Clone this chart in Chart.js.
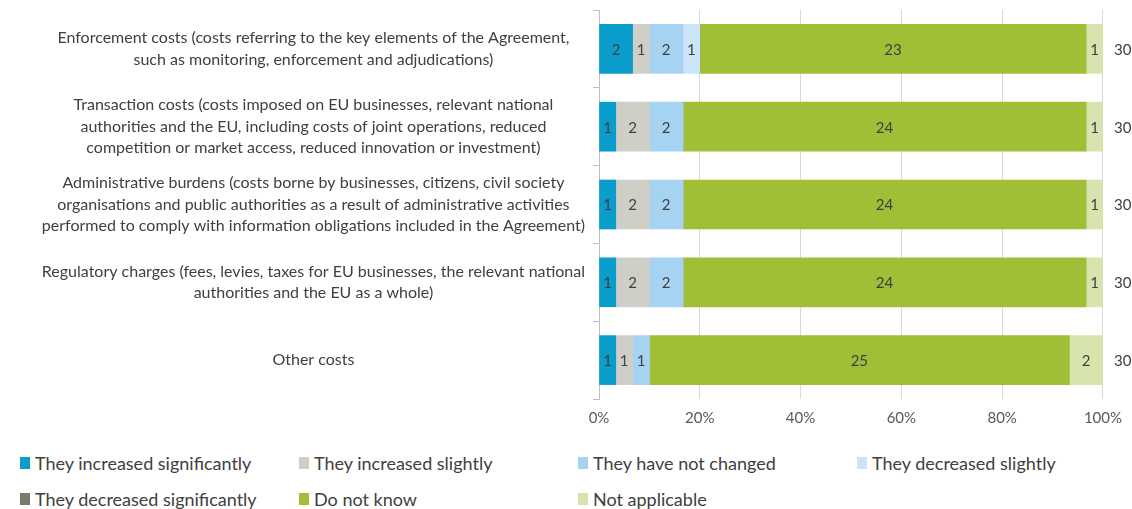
<!DOCTYPE html>
<html>
<head>
<meta charset="utf-8">
<script src="https://cdn.jsdelivr.net/npm/chart.js@4"></script>
<style>
  html, body { margin: 0; padding: 0; background: #fff; }
  body { width: 1132px; height: 509px; overflow: hidden; position: relative; font-family: Lato, "Open Sans", sans-serif; }
  #wrap { position: absolute; left: 0; top: 0; width: 1132px; height: 437px; }
  #legend { position: absolute; left: 20px; top: 452px; display: grid; grid-template-columns: repeat(4, 279px); row-gap: 14px; }
  .item { display: flex; align-items: center; font-size: 18px; color: #404040; height: 22px; white-space: nowrap; }
  .item i { display: inline-block; width: 10px; height: 12px; margin-right: 5px; }
</style>
</head>
<body>
<div id="wrap"><canvas id="chart"></canvas></div>
<div id="legend"></div>
<script>
  const categories = [
    ['Enforcement costs (costs referring to the key elements of the Agreement,', 'such as monitoring, enforcement and adjudications)'],
    ['Transaction costs (costs imposed on EU businesses, relevant national', 'authorities and the EU, including costs of joint operations, reduced', 'competition or market access, reduced innovation or investment)'],
    ['Administrative burdens (costs borne by businesses, citizens, civil society', 'organisations and public authorities as a result of administrative activities', 'performed to comply with information obligations included in the Agreement)'],
    ['Regulatory charges (fees, levies, taxes for EU businesses, the relevant national', 'authorities and the EU as a whole)'],
    'Other costs'
  ];
  const seriesNames = [
    'They increased significantly', 'They increased slightly', 'They have not changed',
    'They decreased slightly', 'They decreased significantly', 'Do not know', 'Not applicable'
  ];
  const seriesColors = ['#0a9dcb', '#cfcfc7', '#a7d3f3', '#cae4f9', '#7b7b6b', '#a0be36', '#d8e4ae'];
  const increasedSignificantly = [2, 1, 1, 1, 1];
  const increasedSlightly = [1, 2, 2, 2, 1];
  const notChanged = [2, 2, 2, 2, 1];
  const decreasedSlightly = [1, 0, 0, 0, 0];
  const decreasedSignificantly = [0, 0, 0, 0, 0];
  const doNotKnow = [23, 24, 24, 24, 25];
  const notApplicable = [1, 1, 1, 1, 2];
  const totals = [30, 30, 30, 30, 30];
  const xTicks = [0, 20, 40, 60, 80, 100];

  const counts = [increasedSignificantly, increasedSlightly, notChanged, decreasedSlightly,
    decreasedSignificantly, doNotKnow, notApplicable];

  const textColor = '#404040';
  const fontFamily = 'Lato, "Open Sans", sans-serif';

  const datasets = counts.map((arr, i) => ({
    label: seriesNames[i],
    data: arr.map((v, j) => v / totals[j] * 100),
    counts: arr,
    backgroundColor: seriesColors[i],
    borderWidth: 0,
    barThickness: 49
  }));

  // numbers inside the segments and totals at the end of each bar
  const valueLabels = {
    id: 'valueLabels',
    afterDatasetsDraw(chart) {
      const ctx = chart.ctx;
      ctx.save();
      ctx.font = '15px ' + fontFamily;
      ctx.fillStyle = textColor;
      ctx.textAlign = 'center';
      ctx.textBaseline = 'middle';
      chart.data.datasets.forEach((ds, i) => {
        const meta = chart.getDatasetMeta(i);
        meta.data.forEach((bar, j) => {
          const n = ds.counts[j];
          if (!n) return;
          ctx.fillText(String(n), (bar.x + bar.base) / 2, bar.y + 1);
        });
      });
      const last = chart.getDatasetMeta(chart.data.datasets.length - 1);
      ctx.textAlign = 'left';
      last.data.forEach((bar, j) => {
        ctx.fillText(String(totals[j]), bar.x + 11, bar.y + 1);
      });
      ctx.restore();
    }
  };

  new Chart(document.getElementById('chart'), {
    type: 'bar',
    data: { labels: categories, datasets },
    plugins: [valueLabels],
    options: {
      indexAxis: 'y',
      responsive: true,
      maintainAspectRatio: false,
      animation: false,
      layout: { padding: { top: 10, right: 29, left: 0, bottom: 0 } },
      plugins: { legend: { display: false }, tooltip: { enabled: false } },
      scales: {
        x: {
          stacked: true,
          min: 0,
          max: 100,
          afterBuildTicks: (scale) => { scale.ticks = xTicks.map((v) => ({ value: v })); },
          ticks: {
            callback: (v) => v + '%',
            color: '#595959',
            font: { family: fontFamily, size: 15 },
            padding: 10
          },
          grid: { color: '#d9d9d9', drawTicks: false },
          border: { display: false }
        },
        y: {
          stacked: true,
          afterFit: (scale) => {
            scale.width = 599;
            scale.paddingTop = 0;
            scale.paddingBottom = 0;
          },
          ticks: {
            crossAlign: 'center',
            color: textColor,
            font: { family: fontFamily, size: 16, lineHeight: 1.35 },
            padding: 8
          },
          grid: { drawOnChartArea: false, drawTicks: true, tickLength: 6, color: '#bfbfbf', offset: true },
          border: { color: '#bfbfbf' }
        }
      }
    }
  });

  const legend = document.getElementById('legend');
  seriesNames.forEach((name, i) => {
    const el = document.createElement('div');
    el.className = 'item';
    el.innerHTML = `<i style="background:${seriesColors[i]}"></i>${name}`;
    legend.appendChild(el);
  });
</script>
</body>
</html>
